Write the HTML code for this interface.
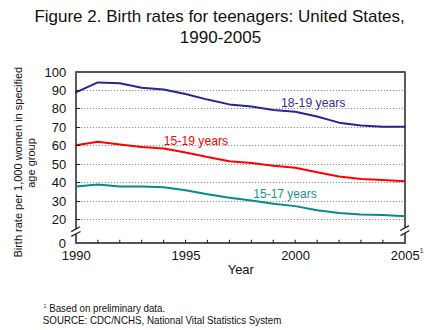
<!DOCTYPE html>
<html><head><meta charset="utf-8"><style>
html,body{margin:0;padding:0;background:#fff;width:440px;height:330px;overflow:hidden}
svg{display:block}
text{font-family:"Liberation Sans",sans-serif;fill:#111}
.t12{font-size:12px}
.t13{font-size:13px}
.g{stroke:#8f8f8f;stroke-width:1;stroke-dasharray:1.2 1.8}
.ax{stroke:#545454;stroke-width:1.9;fill:none;stroke-linejoin:round}
.ax1{stroke:#5e5e5e;stroke-width:1.3}
.ln{fill:none;stroke-width:2;stroke-linejoin:round;stroke-linecap:round}
.tk{stroke:#222;stroke-width:1.1}
.sl{stroke:#222;stroke-width:1.3}
</style></head><body>
<svg width="440" height="330" viewBox="0 0 440 330">
<text x="219.6" y="22.1" text-anchor="middle" style="font-size:17px">Figure 2. Birth rates for teenagers: United States,</text>
<text x="220.5" y="42.9" text-anchor="middle" style="font-size:17px">1990-2005</text>
<g transform="translate(22.4,162.2) rotate(-90)"><text x="0" y="0" text-anchor="middle" style="font-size:11px">Birth rate per 1,000 women in specified</text></g>
<g transform="translate(34.9,163) rotate(-90)"><text x="0" y="0" text-anchor="middle" style="font-size:11px">age group</text></g>
<line x1="80.8" y1="219.5" x2="403" y2="219.5" class="g"/><line x1="80.8" y1="201.5" x2="403" y2="201.5" class="g"/><line x1="80.8" y1="182.5" x2="403" y2="182.5" class="g"/><line x1="80.8" y1="164.5" x2="403" y2="164.5" class="g"/><line x1="80.8" y1="145.5" x2="403" y2="145.5" class="g"/><line x1="80.8" y1="127.5" x2="403" y2="127.5" class="g"/><line x1="80.8" y1="108.5" x2="403" y2="108.5" class="g"/><line x1="80.8" y1="90.5" x2="403" y2="90.5" class="g"/>
<path d="M76 242.5 V72 H405 V243 M75 243 H406" class="ax"/>
<polyline points="75.90,92.41 97.83,82.46 119.76,83.20 141.69,87.80 163.62,89.46 185.55,94.07 207.48,99.60 229.41,104.39 251.34,106.60 273.27,109.92 295.20,111.76 317.13,116.55 339.06,122.64 360.99,125.40 382.92,126.69 404.85,126.87" class="ln" style="stroke:#262694"/>
<polyline points="75.90,145.30 97.83,141.80 119.76,144.57 141.69,146.96 163.62,148.44 185.55,152.49 207.48,157.10 229.41,161.15 251.34,163.00 273.27,165.76 295.20,167.79 317.13,172.21 339.06,176.45 360.99,179.03 382.92,179.95 404.85,181.24" class="ln" style="stroke:#ff0000"/>
<polyline points="75.90,186.59 97.83,184.56 119.76,186.40 141.69,186.59 163.62,187.14 185.55,190.27 207.48,194.33 229.41,197.83 251.34,200.59 273.27,203.73 295.20,206.12 317.13,210.18 339.06,212.94 360.99,214.42 382.92,214.97 404.85,216.26" class="ln" style="stroke:#068a8a"/>
<line x1="76" y1="219.5" x2="80" y2="219.5" class="tk"/><line x1="76" y1="201.5" x2="80" y2="201.5" class="tk"/><line x1="76" y1="182.5" x2="80" y2="182.5" class="tk"/><line x1="76" y1="164.5" x2="80" y2="164.5" class="tk"/><line x1="76" y1="145.5" x2="80" y2="145.5" class="tk"/><line x1="76" y1="127.5" x2="80" y2="127.5" class="tk"/><line x1="76" y1="108.5" x2="80" y2="108.5" class="tk"/><line x1="76" y1="90.5" x2="80" y2="90.5" class="tk"/>
<line x1="97.83" y1="243" x2="97.83" y2="239.8" class="tk"/><line x1="119.76" y1="243" x2="119.76" y2="239.8" class="tk"/><line x1="141.69" y1="243" x2="141.69" y2="239.8" class="tk"/><line x1="163.62" y1="243" x2="163.62" y2="239.8" class="tk"/><line x1="185.55" y1="243" x2="185.55" y2="239.8" class="tk"/><line x1="207.48" y1="243" x2="207.48" y2="239.8" class="tk"/><line x1="229.41" y1="243" x2="229.41" y2="239.8" class="tk"/><line x1="251.34" y1="243" x2="251.34" y2="239.8" class="tk"/><line x1="273.27" y1="243" x2="273.27" y2="239.8" class="tk"/><line x1="295.20" y1="243" x2="295.20" y2="239.8" class="tk"/><line x1="317.13" y1="243" x2="317.13" y2="239.8" class="tk"/><line x1="339.06" y1="243" x2="339.06" y2="239.8" class="tk"/><line x1="360.99" y1="243" x2="360.99" y2="239.8" class="tk"/><line x1="382.92" y1="243" x2="382.92" y2="239.8" class="tk"/>
<!-- breaks -->
<polygon points="71.2,231.6 80,226.7 80.5,231.5 71.2,236.3" fill="#fff"/>
<line x1="71.2" y1="231.6" x2="80" y2="226.7" class="sl"/>
<line x1="71.2" y1="236.3" x2="80.5" y2="231.5" class="sl"/>
<polygon points="400.2,230.5 409,225.6 409.5,230.5 400.5,235.6" fill="#fff"/>
<line x1="400.2" y1="230.5" x2="409" y2="225.6" class="sl"/>
<line x1="400.5" y1="235.6" x2="409.5" y2="230.5" class="sl"/>
<text x="66.3" y="223.94" text-anchor="end" class="t13">20</text><text x="66.3" y="205.51" text-anchor="end" class="t13">30</text><text x="66.3" y="187.08" text-anchor="end" class="t13">40</text><text x="66.3" y="168.65" text-anchor="end" class="t13">50</text><text x="66.3" y="150.22" text-anchor="end" class="t13">60</text><text x="66.3" y="131.79" text-anchor="end" class="t13">70</text><text x="66.3" y="113.36" text-anchor="end" class="t13">80</text><text x="66.3" y="94.93" text-anchor="end" class="t13">90</text><text x="66.3" y="76.50" text-anchor="end" class="t13">100</text><text x="66.1" y="247.9" text-anchor="end" class="t13">0</text>
<text x="76.30" y="259.7" text-anchor="middle" class="t13">1990</text>
<text x="185.95" y="259.7" text-anchor="middle" class="t13">1995</text>
<text x="295.60" y="259.7" text-anchor="middle" class="t13">2000</text>
<text x="405.25" y="259.7" text-anchor="middle" class="t13">2005</text>
<text x="419.4" y="252.6" style="font-size:7.5px;fill:#444">1</text>
<text x="240.8" y="274.3" text-anchor="middle" style="font-size:13px">Year</text>
<text x="281.0" y="107.1" class="t12" style="fill:#2e2e9e;font-size:12.2px">18-19 years</text>
<text x="163.8" y="144.55" class="t12" style="fill:#ff0000;font-size:12.2px">15-19 years</text>
<text x="253.3" y="198" class="t12" style="fill:#169494">15-17 years</text>
<text x="43.6" y="307.8" style="font-size:5.5px;fill:#444">1</text>
<text x="49.2" y="311.9" style="font-size:10.5px" textLength="116" lengthAdjust="spacingAndGlyphs">Based on preliminary data.</text>
<text x="42.8" y="323.5" style="font-size:10.5px" textLength="238.6" lengthAdjust="spacingAndGlyphs">SOURCE: CDC/NCHS, National Vital Statistics System</text>
</svg>
</body></html>
